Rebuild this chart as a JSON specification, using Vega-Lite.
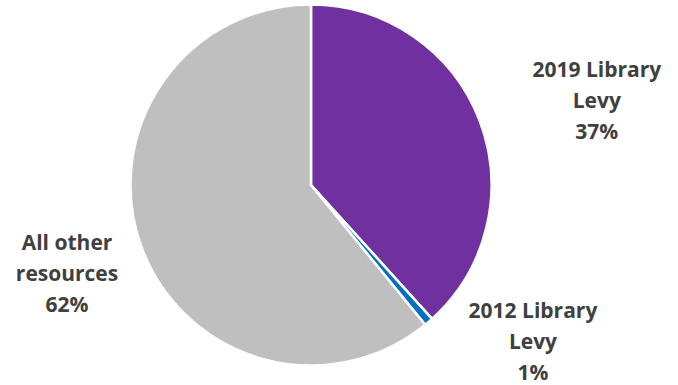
{
  "$schema": "https://vega.github.io/schema/vega-lite/v6.json",
  "width": 622,
  "height": 370,
  "autosize": "none",
  "padding": {"left": 0, "top": 0, "right": 56, "bottom": 15},
  "background": "white",
  "config": {"view": {"stroke": null}},
  "data": {
    "values": [
      {"source": "2019 Library Levy", "share": 38.3, "seq": 1, "label": "2019 Library\nLevy\n37%"},
      {"source": "2012 Library Levy", "share": 0.8, "seq": 2, "label": "2012 Library\nLevy\n1%"},
      {"source": "All other resources", "share": 60.9, "seq": 3, "label": "All other\nresources\n62%"}
    ]
  },
  "encoding": {
    "theta": {"field": "share", "type": "quantitative", "stack": true},
    "order": {"field": "seq", "type": "quantitative"}
  },
  "layer": [
    {
      "mark": {"type": "arc", "outerRadius": 180.5, "stroke": "white", "strokeWidth": 2.5},
      "encoding": {
        "color": {
          "field": "source",
          "type": "nominal",
          "scale": {
            "domain": ["2019 Library Levy", "2012 Library Levy", "All other resources"],
            "range": ["#7030A0", "#0070C0", "#BFBFBF"]
          },
          "legend": null
        }
      }
    },
    {
      "mark": {"type": "text", "radius": 296.6, "dx": 9, "dy": -7, "font": "Open Sans", "fontWeight": "bold", "fontSize": 21, "lineHeight": 31, "lineBreak": "\n", "color": "#404040", "align": "center", "baseline": "middle"},
      "encoding": {
        "text": {"condition": {"test": "datum.source === '2019 Library Levy'", "field": "label"}, "value": ""}
      }
    },
    {
      "mark": {"type": "text", "radius": 263.8, "dx": 50, "dy": -73, "font": "Open Sans", "fontWeight": "bold", "fontSize": 21, "lineHeight": 31, "lineBreak": "\n", "color": "#404040", "align": "center", "baseline": "middle"},
      "encoding": {
        "text": {"condition": {"test": "datum.source === '2012 Library Levy'", "field": "label"}, "value": ""}
      }
    },
    {
      "mark": {"type": "text", "radius": 259, "dx": 0, "dy": -28, "font": "Open Sans", "fontWeight": "bold", "fontSize": 21, "lineHeight": 31, "lineBreak": "\n", "color": "#404040", "align": "center", "baseline": "middle"},
      "encoding": {
        "text": {"condition": {"test": "datum.source === 'All other resources'", "field": "label"}, "value": ""}
      }
    }
  ]
}
